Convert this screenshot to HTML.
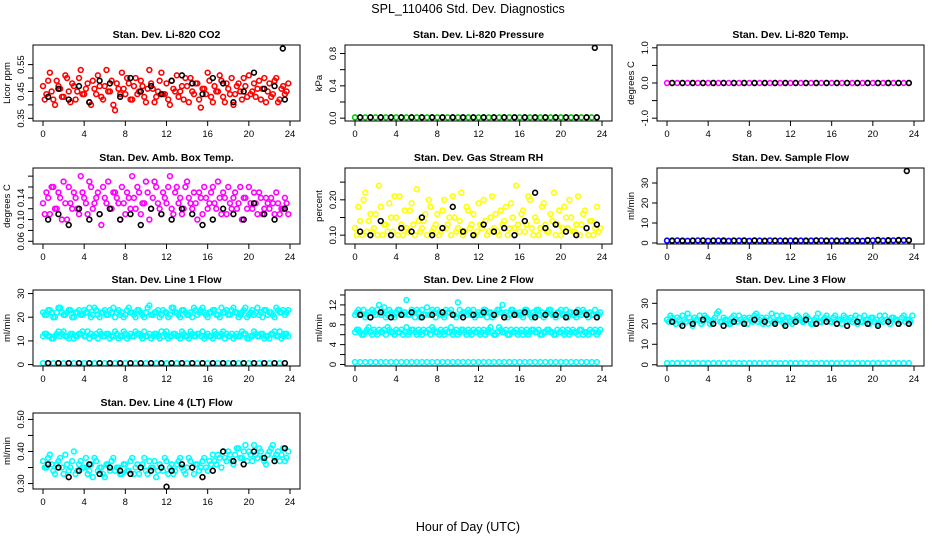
<!DOCTYPE html>
<html><head><meta charset="utf-8"><style>
html,body{margin:0;padding:0;background:#fff;}
svg{display:block;font-family:"Liberation Sans",sans-serif;}
</style></head><body>
<svg id="chart" width="936" height="540" viewBox="0 0 936 540" xmlns="http://www.w3.org/2000/svg">
<text x="468" y="13" text-anchor="middle" font-size="12.5">SPL_110406  Std. Dev. Diagnostics</text>
<text x="468" y="531" text-anchor="middle" font-size="12.5">Hour of Day (UTC)</text>
</svg>
<script>
// ---- data ----
const xTicks = [0,4,8,12,16,20,24];
const co2Values = [0.47,0.44,0.52,0.42,0.49,0.46,0.43,0.50,0.41,0.47,0.45,0.53,0.44,0.48,0.40,0.46,0.51,0.43,0.47,0.45,0.49,0.38,0.46,0.52,0.44,0.48,0.42,0.50,0.45,0.47,0.41,0.53,0.46,0.43,0.49,0.44,0.48,0.40,0.46,0.51,0.45,0.42,0.47,0.50,0.44,0.48,0.39,0.46,0.52,0.43,0.47,0.45,0.49,0.41,0.46,0.50,0.44,0.48,0.42,0.47,0.51,0.45,0.43,0.49,0.46,0.41,0.48,0.44,0.50,0.42,0.47,0.45];
const co2Values2 = [0.42,0.49,0.45,0.40,0.47,0.43,0.51,0.45,0.48,0.42,0.50,0.44,0.46,0.41,0.49,0.44,0.47,0.42,0.53,0.45,0.40,0.48,0.44,0.46,0.50,0.42,0.47,0.44,0.49,0.43,0.46,0.48,0.41,0.45,0.52,0.44,0.42,0.49,0.45,0.43,0.47,0.50,0.41,0.45,0.48,0.42,0.46,0.44,0.49,0.41,0.45,0.51,0.43,0.48,0.44,0.40,0.47,0.45,0.50,0.43,0.44,0.48,0.46,0.42,0.50,0.45,0.43,0.49,0.41,0.46,0.44,0.48];
const co2Black = [0.43,0.46,0.42,0.47,0.41,0.49,0.48,0.43,0.50,0.45,0.47,0.44,0.49,0.51,0.48,0.44,0.50,0.48,0.41,0.45,0.52,0.46,0.47,0.42];
const pressureValues = [0.01,0.01,0.01,0.01,0.01,0.01,0.01,0.01,0.01,0.01,0.01,0.01,0.01,0.01,0.01,0.01,0.01,0.01,0.01,0.01,0.01,0.01,0.01,0.01,0.01,0.01,0.01,0.01,0.01,0.01,0.01,0.01,0.01,0.01,0.01,0.01,0.01,0.01,0.01,0.01,0.01,0.01,0.01,0.01,0.01,0.01,0.01,0.01];
const pressureBlack = [0.01,0.01,0.01,0.01,0.01,0.01,0.01,0.01,0.01,0.01,0.01,0.01,0.01,0.01,0.01,0.01,0.01,0.01,0.01,0.01,0.01,0.01,0.01,0.01];
const tempValues = [0,0,0,0,0,0,0,0,0,0,0,0,0,0,0,0,0,0,0,0,0,0,0,0,0,0,0,0,0,0,0,0,0,0,0,0,0,0,0,0,0,0,0,0,0,0,0,0];
const tempBlack = [0,0,0,0,0,0,0,0,0,0,0,0,0,0,0,0,0,0,0,0,0,0,0,0];
const boxValues = [0.13,0.15,0.11,0.16,0.12,0.14,0.17,0.10,0.13,0.15,0.12,0.18,0.14,0.11,0.16,0.13,0.15,0.09,0.14,0.17,0.12,0.15,0.13,0.16,0.11,0.14,0.18,0.12,0.15,0.13,0.17,0.10,0.14,0.16,0.12,0.15,0.13,0.18,0.11,0.16,0.14,0.12,0.17,0.13,0.15,0.10,0.14,0.16,0.12,0.15,0.13,0.17,0.11,0.14,0.16,0.12,0.15,0.13,0.10,0.14,0.16,0.12,0.13,0.15,0.11,0.14,0.12,0.13,0.15,0.11,0.12,0.13];
const boxValues2 = [0.11,0.14,0.16,0.12,0.15,0.10,0.13,0.16,0.12,0.14,0.11,0.15,0.13,0.17,0.12,0.14,0.11,0.16,0.13,0.12,0.15,0.14,0.10,0.13,0.15,0.12,0.14,0.16,0.11,0.13,0.15,0.12,0.17,0.13,0.11,0.14,0.16,0.12,0.15,0.13,0.11,0.16,0.14,0.12,0.13,0.15,0.11,0.14,0.13,0.16,0.12,0.14,0.15,0.11,0.13,0.14,0.12,0.16,0.14,0.12,0.13,0.15,0.11,0.14,0.12,0.13,0.14,0.11,0.13,0.12,0.14,0.11];
const boxBlack = [0.10,0.11,0.09,0.12,0.10,0.11,0.12,0.10,0.11,0.09,0.12,0.11,0.10,0.12,0.11,0.09,0.10,0.12,0.11,0.10,0.13,0.11,0.10,0.12];
const rhValues = [0.12,0.18,0.10,0.22,0.14,0.11,0.16,0.24,0.10,0.13,0.19,0.11,0.15,0.21,0.10,0.12,0.17,0.13,0.23,0.11,0.14,0.10,0.18,0.12,0.16,0.11,0.20,0.13,0.10,0.15,0.12,0.22,0.11,0.17,0.13,0.10,0.19,0.12,0.14,0.11,0.21,0.16,0.10,0.13,0.18,0.12,0.15,0.24,0.11,0.17,0.13,0.20,0.10,0.14,0.12,0.19,0.11,0.16,0.22,0.13,0.10,0.18,0.12,0.15,0.11,0.21,0.13,0.17,0.10,0.14,0.12,0.11];
const rhValues2 = [0.10,0.14,0.20,0.11,0.16,0.12,0.10,0.18,0.13,0.11,0.15,0.21,0.10,0.13,0.17,0.11,0.19,0.10,0.14,0.12,0.16,0.20,0.11,0.13,0.10,0.17,0.12,0.15,0.21,0.11,0.14,0.10,0.18,0.12,0.16,0.11,0.13,0.20,0.10,0.15,0.12,0.11,0.17,0.14,0.10,0.19,0.12,0.13,0.16,0.11,0.21,0.12,0.15,0.10,0.18,0.13,0.11,0.14,0.10,0.17,0.12,0.15,0.20,0.11,0.13,0.10,0.16,0.12,0.14,0.10,0.18,0.12];
const rhBlack = [0.11,0.10,0.14,0.10,0.12,0.11,0.15,0.10,0.12,0.18,0.11,0.10,0.13,0.11,0.12,0.10,0.14,0.22,0.12,0.13,0.11,0.10,0.12,0.13];
const sampleValues = [1.2,1.1,1.3,1.2,1.1,1.2,1.3,1.2,1.1,1.2,1.2,1.3,1.1,1.2,1.2,1.3,1.1,1.2,1.2,1.1,1.3,1.2,1.2,1.1,1.2,1.3,1.2,1.1,1.2,1.2,1.3,1.1,1.2,1.2,1.1,1.3,1.2,1.2,1.1,1.4,1.3,1.5,1.2,1.4,1.3,1.5,1.4,1.3];
const sampleBlack = [1.2,1.1,1.2,1.3,1.2,1.1,1.2,1.2,1.3,1.1,1.2,1.2,1.1,1.2,1.3,1.2,1.1,1.2,1.2,1.3,1.4,1.2,1.3,1.4];
const line1High = [22,21,23,20,22,24,21,22,23,20,22,21,23,22,20,24,21,22,23,21,22,20,23,22,21,24,22,20,23,21,22,25,21,22,20,23,22,21,24,22,20,23,21,22,24,21,23,22,20,22,23,21,24,22,21,23,22,20,22,24,21,23,22,21,20,23,22,21,24,22,23,22];
const line1High2 = [21,23,22,20,24,22,21,23,20,22,23,21,22,24,21,23,20,22,21,23,24,22,21,20,23,22,21,23,22,20,24,21,22,23,21,22,20,24,22,21,23,22,21,20,23,22,24,21,22,23,21,20,22,23,21,24,22,21,23,20,22,21,24,22,23,21,22,20,23,22,21,23];
const line1Mid = [12,13,12,11,13,12,14,12,13,11,12,13,12,14,13,12,11,13,12,13,12,14,11,12,13,12,12,14,13,11,12,13,12,13,11,12,14,12,13,12,11,13,12,14,12,13,12,11,13,12,14,12,13,11,12,13,12,12,14,13,11,12,13,12,13,12,11,13,12,14,12,13];
const line1Mid2 = [13,12,11,12,14,13,12,11,13,12,13,14,12,11,12,13,14,12,13,11,12,13,12,14,11,13,12,13,12,14,12,11,13,12,14,13,11,12,13,12,14,12,11,13,12,13,14,12,12,11,13,12,14,13,12,11,13,12,13,11,12,14,12,13,11,12,13,14,12,11,13,12];
const line1Low = [0.6,0.6,0.6,0.6,0.6,0.6,0.6,0.6,0.6,0.6,0.6,0.6,0.6,0.6,0.6,0.6,0.6,0.6,0.6,0.6,0.6,0.6,0.6,0.6,0.6,0.6,0.6,0.6,0.6,0.6,0.6,0.6,0.6,0.6,0.6,0.6,0.6,0.6,0.6,0.6,0.6,0.6,0.6,0.6,0.6,0.6,0.6,0.6];
const line1Black = [0.6,0.6,0.6,0.6,0.6,0.6,0.6,0.6,0.6,0.6,0.6,0.6,0.6,0.6,0.6,0.6,0.6,0.6,0.6,0.6,0.6,0.6,0.6,0.6];
const line2High = [10,11,10,9.5,10.5,11,10,12,10.5,9.5,11,10,10.5,11,10,13,10,10.5,11,9.5,10,11.5,10,10.5,11,10,9.5,10.5,11,10,12.5,10,10.5,11,10,9.5,10.5,10,11,10.5,9.5,10,11,12,10.5,10,11,10,10.5,9.5,11,10,10.5,11,10,9.5,10.5,11,10,10.5,11,10,9.5,10.5,10,11,10,10.5,9.5,10,11,10];
const line2High2 = [10.5,10,11,10,9.5,10.5,11,10,11.5,10,10.5,9.5,11,10,10.5,10,11,9.5,10.5,11,10,10,11,9.5,10.5,10,11,10.5,10,9.5,11,10.5,10,10.5,11,10,10,11,9.5,10.5,10,11,10.5,10,9.5,11,10.5,10,10,11,10.5,9.5,10,11,10.5,10,11,10,9.5,10.5,10,11,10.5,10,9.5,10.5,11,10,10.5,10,9.5,10.5];
const line2Mid = [6.5,7,6,6.5,7.5,6,6.5,7,6.5,6,7,6.5,7,6.5,6,7.5,6.5,7,6,6.5,7,6.5,6,7,6.5,7,6,6.5,7.5,6.5,6,7,6.5,7,6,6.5,7,6.5,6,7,6.5,6,7.5,6.5,7,6,6.5,7,6.5,6,7,6.5,7,6.5,6,6.5,7,6.5,6,7,6.5,6,7,6.5,6.5,6,7,6.5,6,6.5,7,6.5];
const line2Mid2 = [7,6.5,6,7,6.5,7,6,6.5,7,7.5,6.5,6,6.5,7,6.5,6,7,6.5,7,6,6.5,7,7.5,6.5,6,6.5,7,6.5,6,7,6.5,7,6,6.5,7,6.5,6,7,6.5,7.5,6,6.5,7,6.5,6,7,6.5,6,7,6.5,6,7,6.5,7,6,6.5,7,6.5,6,6.5,7,6.5,6,7,6.5,7,6,6.5,7,6.5,6,7];
const line2Low = [0.5,0.5,0.5,0.5,0.5,0.5,0.5,0.5,0.5,0.5,0.5,0.5,0.5,0.5,0.5,0.5,0.5,0.5,0.5,0.5,0.5,0.5,0.5,0.5,0.5,0.5,0.5,0.5,0.5,0.5,0.5,0.5,0.5,0.5,0.5,0.5,0.5,0.5,0.5,0.5,0.5,0.5,0.5,0.5,0.5,0.5,0.5,0.5];
const line2Black = [10,9.5,10.5,9.5,10,10.5,9.5,10,10.5,10,9.5,10,10.5,10,9.5,10,10.5,9.5,10,10,9.5,10.5,10,9.5];
const line3High = [22,24,21,23,20,22,25,21,23,22,20,24,22,21,23,26,21,22,20,23,22,24,21,22,23,21,25,22,20,23,22,21,24,22,20,23,21,22,24,22,21,23,20,22,25,21,23,22,21,24,22,20,23,22,21,24,23,21,22,20,23,22,24,21,22,20,23,22,21,24,22,21];
const line3High2 = [21,23,20,22,24,21,23,19,22,24,21,23,20,22,25,21,23,22,20,24,21,22,23,20,22,24,21,23,22,20,25,21,22,24,21,23,20,22,23,21,24,22,20,23,21,22,24,21,23,20,22,24,21,23,22,20,21,24,22,23,21,20,22,24,21,23,22,20,23,21,22,24];
const line3Low = [0.8,0.8,0.8,0.8,0.8,0.8,0.8,0.8,0.8,0.8,0.8,0.8,0.8,0.8,0.8,0.8,0.8,0.8,0.8,0.8,0.8,0.8,0.8,0.8,0.8,0.8,0.8,0.8,0.8,0.8,0.8,0.8,0.8,0.8,0.8,0.8,0.8,0.8,0.8,0.8,0.8,0.8,0.8,0.8,0.8,0.8,0.8,0.8];
const line3Black = [21,19,20,22,20,19,21,20,22,21,20,19,21,22,20,21,20,19,21,20,19,21,20,20];
const line4Values = [0.37,0.35,0.39,0.34,0.36,0.38,0.33,0.36,0.35,0.40,0.34,0.37,0.35,0.33,0.36,0.38,0.34,0.35,0.32,0.36,0.37,0.34,0.35,0.33,0.36,0.34,0.38,0.35,0.33,0.36,0.34,0.37,0.35,0.32,0.36,0.34,0.37,0.35,0.33,0.36,0.38,0.34,0.35,0.37,0.33,0.36,0.35,0.38,0.34,0.36,0.37,0.39,0.35,0.38,0.40,0.37,0.39,0.41,0.38,0.42,0.40,0.37,0.39,0.41,0.38,0.36,0.40,0.42,0.39,0.37,0.41,0.38];
const line4Values2 = [0.35,0.38,0.36,0.33,0.37,0.35,0.39,0.34,0.37,0.33,0.36,0.35,0.38,0.34,0.32,0.37,0.35,0.33,0.36,0.34,0.38,0.35,0.33,0.36,0.34,0.37,0.33,0.36,0.35,0.38,0.33,0.35,0.37,0.34,0.35,0.38,0.33,0.36,0.34,0.37,0.35,0.33,0.38,0.35,0.36,0.34,0.37,0.35,0.37,0.39,0.36,0.38,0.40,0.37,0.39,0.36,0.41,0.38,0.40,0.37,0.39,0.42,0.38,0.40,0.37,0.39,0.41,0.38,0.40,0.39,0.37,0.40];
const line4Black = [0.36,0.35,0.32,0.34,0.36,0.33,0.35,0.34,0.33,0.35,0.34,0.35,0.34,0.36,0.35,0.32,0.34,0.40,0.37,0.36,0.40,0.38,0.37,0.41];
const co2OutlierHour = [23.3], co2OutlierValue = [0.61];
const pressureOutlierHour = [23.3], pressureOutlierValue = [0.87];
const sampleOutlierHour = [23.3], sampleOutlierValue = [36];
const line4OutlierHour = [12], line4OutlierValue = [0.29];

// ---- layout ----
const NS = 'http://www.w3.org/2000/svg';
const svg = document.getElementById('chart');
const colLeft = [33, 345, 657], rowTop = [45, 168, 290, 413];
const PW = 267, PH = 76;
function hoursFor(n, off){ const h=[]; for(let i=0;i<n;i++) h.push(i*24/n + (off||0)); return h; }
const blackHours = hoursFor(24).map(h=>h+0.5);

const CY='#00ffff';
const panels = [
 {name:'co2',title:'Stan. Dev. Li-820 CO2',ylab:'Licor ppm',ymin:0.34,ymax:0.623,ticks:[0.35,0.40,0.45,0.50,0.55],labels:['0.35','','0.45','','0.55'],
  series:[[co2Values,'#ff0000',0],[co2Values2,'#ff0000',0.17]],black:co2Black,out:[co2OutlierHour,co2OutlierValue]},
 {name:'pressure',title:'Stan. Dev. Li-820 Pressure',ylab:'kPa',ymin:-0.035,ymax:0.905,ticks:[0,0.2,0.4,0.6,0.8],labels:['0.0','','0.4','','0.8'],
  series:[[pressureValues,'#00cc00',0]],black:pressureBlack,out:[pressureOutlierHour,pressureOutlierValue]},
 {name:'temp',title:'Stan. Dev. Li-820 Temp.',ylab:'degrees C',ymin:-1.08,ymax:1.08,ticks:[-1,-0.5,0,0.5,1],labels:['-1.0','','0.0','','1.0'],
  series:[[tempValues,'#ff00ff',0]],black:tempBlack},
 {name:'box-temp',title:'Stan. Dev. Amb. Box Temp.',ylab:'degrees C',ymin:0.055,ymax:0.195,ticks:[0.06,0.08,0.10,0.12,0.14,0.16,0.18],labels:['0.06','','0.10','','0.14','',''],
  series:[[boxValues,'#ff00ff',0],[boxValues2,'#ff00ff',0.17]],black:boxBlack},
 {name:'rh',title:'Stan. Dev. Gas Stream RH',ylab:'percent',ymin:0.075,ymax:0.29,ticks:[0.10,0.15,0.20,0.25],labels:['0.10','','0.20',''],
  series:[[rhValues,'#ffff00',0],[rhValues2,'#ffff00',0.17]],black:rhBlack},
 {name:'sample-flow',title:'Stan. Dev. Sample Flow',ylab:'ml/min',ymin:-0.5,ymax:37.5,ticks:[0,10,20,30],labels:['0','10','20','30'],
  series:[[sampleValues,'#0000ff',0]],black:sampleBlack,out:[sampleOutlierHour,sampleOutlierValue]},
 {name:'line1-flow',title:'Stan. Dev. Line 1 Flow',ylab:'ml/min',ymin:-0.6,ymax:31.5,ticks:[0,10,20,30],labels:['0','10','20','30'],
  series:[[line1High,CY,0],[line1High2,CY,0.17],[line1Mid,CY,0],[line1Mid2,CY,0.17],[line1Low,CY,0]],black:line1Black},
 {name:'line2-flow',title:'Stan. Dev. Line 2 Flow',ylab:'ml/min',ymin:-0.3,ymax:15,ticks:[0,2,4,6,8,10,12,14],labels:['0','','4','','8','','12',''],
  series:[[line2High,CY,0],[line2High2,CY,0.17],[line2Mid,CY,0],[line2Mid2,CY,0.17],[line2Low,CY,0]],black:line2Black},
 {name:'line3-flow',title:'Stan. Dev. Line 3 Flow',ylab:'ml/min',ymin:-0.6,ymax:36.5,ticks:[0,10,20,30],labels:['0','10','20','30'],
  series:[[line3High,CY,0],[line3High2,CY,0.17],[line3Low,CY,0]],black:line3Black},
 {name:'line4-flow',title:'Stan. Dev. Line 4 (LT) Flow',ylab:'ml/min',ymin:0.283,ymax:0.52,ticks:[0.30,0.35,0.40,0.45,0.50],labels:['0.30','','0.40','','0.50'],
  series:[[line4Values,CY,0],[line4Values2,CY,0.17]],black:line4Black,out:[line4OutlierHour,line4OutlierValue]}
];

function mk(tag, attrs, parent){ const e=document.createElementNS(NS,tag); for(const k in attrs) e.setAttribute(k,attrs[k]); parent.appendChild(e); return e; }

panels.forEach((p,i)=>{
  const L = colLeft[i%3], T = rowTop[Math.floor(i/3)];
  const g = mk('g',{},svg);
  
  
  const xs = h => L + 10 + h*(PW-20)/24;
  const ys = v => T + PH - (v-p.ymin)/(p.ymax-p.ymin)*PH;
  const t = mk('text',{x:L+PW/2,y:T-7,'text-anchor':'middle','font-size':'10.5','font-weight':'bold'},g);
  t.textContent = p.title;
  
  
  const pts = mk('g',{fill:'none','stroke-width':'1.6'},g);
  
  
  p.series.forEach(([vals,col,off])=>{
    const hrs = hoursFor(vals.length, off);
    vals.forEach((v,j)=>{
      const c = mk('circle',{cx:xs(hrs[j]),cy:ys(v),r:2.4,stroke:col},pts);
      
      
    });
  });
  p.black.forEach((v,j)=>{
    const c = mk('circle',{cx:xs(blackHours[j]),cy:ys(v),r:2.4,stroke:'#000'},pts);
    
    
  });
  if(p.out){ p.out[0].forEach((h,j)=>{
    const c = mk('circle',{cx:xs(h),cy:ys(p.out[1][j]),r:2.4,stroke:'#000'},pts);
    
    
  });}
  const b = mk('rect',{x:L,y:T,width:PW,height:PH,fill:'none',stroke:'#000','stroke-width':'1'},g);
  
  
  const xa = mk('g',{},g);
  
  
  xTicks.forEach(h=>{
    mk('line',{x1:xs(h),x2:xs(h),y1:T+PH,y2:T+PH+5,stroke:'#000'},xa);
    const tx = mk('text',{x:xs(h),y:T+PH+16,'text-anchor':'middle','font-size':'9.5'},xa);
    tx.textContent = h;
    
    
  });
  const ya = mk('g',{},g);
  
  
  p.ticks.forEach((v,j)=>{
    mk('line',{x1:L-5,x2:L,y1:ys(v),y2:ys(v),stroke:'#000'},ya);
    if(p.labels[j]){
      const tx = mk('text',{x:L-9,y:ys(v),'text-anchor':'middle','font-size':'9.5',transform:`rotate(-90 ${L-9} ${ys(v)})`},ya);
      tx.textContent = p.labels[j];
      
      
    }
  });
  const yl = mk('text',{x:L-23,y:T+PH/2,'text-anchor':'middle','font-size':'9.5',transform:`rotate(-90 ${L-23} ${T+PH/2})`},g);
  yl.textContent = p.ylab;
  
  
});
</script>
</body></html>
